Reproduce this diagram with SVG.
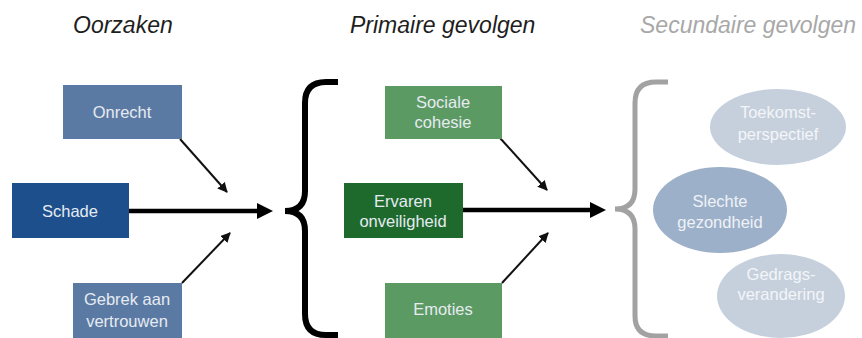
<svg xmlns="http://www.w3.org/2000/svg" width="862" height="338" viewBox="0 0 862 338">
<defs>
<style>
.title{font-family:"Liberation Sans",Arial,sans-serif;font-size:23px;font-style:italic;text-anchor:start}
.lbl{font-family:"Liberation Sans",Arial,sans-serif;font-size:16.5px;fill:#e6ebf2;text-anchor:middle}
.thin{stroke:#111;stroke-width:2;fill:none;marker-end:url(#ah)}
.thick{stroke:#000;stroke-width:4.5;fill:none}
</style>
<marker id="ah" viewBox="0 0 10 10" refX="9" refY="5" markerWidth="5" markerHeight="5" orient="auto" markerUnits="strokeWidth">
<path d="M0,0 L10,5 L0,10 z" fill="#111"/>
</marker>
</defs>
<rect width="862" height="338" fill="#ffffff"/>
<text class="title" x="73" y="33" fill="#1e1e1e">Oorzaken</text>
<text class="title" x="350" y="33" fill="#1e1e1e">Primaire gevolgen</text>
<text class="title" x="640" y="33" fill="#a8a8a8">Secundaire gevolgen</text>

<g id="connectors">
<line class="thick" x1="129" y1="211" x2="259" y2="211"/>
<polygon points="273,211 257,203 257,219" fill="#000"/>
<line class="thick" x1="463" y1="210" x2="592" y2="210"/>
<polygon points="606,210 590,202 590,218" fill="#000"/>
<line class="thin" x1="180" y1="139" x2="227" y2="192"/>
<line class="thin" x1="182" y1="283" x2="230" y2="233"/>
<line class="thin" x1="500" y1="138" x2="547" y2="190"/>
<line class="thin" x1="502" y1="283" x2="548" y2="233"/>
</g>

<g id="brace1">
<path d="M338,82 H326 Q305,82 305,103 V191 Q305,211 285,211 Q305,211 305,231 V314 Q305,335 326,335 H338" fill="none" stroke="#000" stroke-width="6"/>
</g>
<g id="brace2">
<path d="M668,82 H656 Q635,82 635,103 V189 Q635,209 615,209 Q635,209 635,229 V316 Q635,336 656,336 H668" fill="none" stroke="#a2a2a2" stroke-width="5"/>
</g>

<g id="onrecht">
<rect x="63" y="85" width="119" height="54" fill="#5b7aa3"/>
<text class="lbl" x="122" y="118">Onrecht</text>
</g>
<g id="schade">
<rect x="12" y="183" width="117" height="55" fill="#1c4f8c"/>
<text class="lbl" x="70" y="217">Schade</text>
</g>
<g id="gebrek">
<rect x="73" y="283" width="109" height="55" fill="#5b7aa3"/>
<text class="lbl" x="127" y="305">Gebrek aan</text>
<text class="lbl" x="127" y="327">vertrouwen</text>
</g>

<g id="sociale">
<rect x="385" y="86" width="117" height="53" fill="#5c9a63"/>
<text class="lbl" x="443" y="108">Sociale</text>
<text class="lbl" x="443" y="128">cohesie</text>
</g>
<g id="ervaren">
<rect x="344" y="183" width="119" height="55" fill="#1d6a2c"/>
<text class="lbl" x="403" y="207">Ervaren</text>
<text class="lbl" x="403" y="227">onveiligheid</text>
</g>
<g id="emoties">
<rect x="385" y="283" width="117" height="55" fill="#5c9a63"/>
<text class="lbl" x="443" y="315">Emoties</text>
</g>

<g id="toekomst">
<ellipse cx="778" cy="127" rx="68" ry="38" fill="#c6d0dd"/>
<text class="lbl" x="778" y="118" fill="#f4f6f9" style="fill:#f3f5f8">Toekomst-</text>
<text class="lbl" x="778" y="140" style="fill:#f3f5f8">perspectief</text>
</g>
<g id="slechte">
<ellipse cx="720" cy="210" rx="67" ry="43" fill="#9db0c9"/>
<text class="lbl" x="720" y="207" style="fill:#eef2f7">Slechte</text>
<text class="lbl" x="720" y="228" style="fill:#eef2f7">gezondheid</text>
</g>
<g id="gedrags">
<ellipse cx="781" cy="296" rx="64" ry="42" fill="#c6d0dd"/>
<text class="lbl" x="781" y="280" style="fill:#f3f5f8">Gedrags-</text>
<text class="lbl" x="781" y="300" style="fill:#f3f5f8">verandering</text>
</g>
</svg>
